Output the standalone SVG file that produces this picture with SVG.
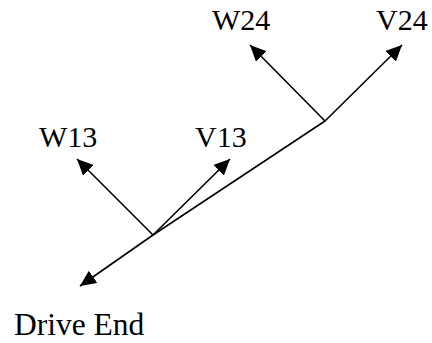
<svg xmlns="http://www.w3.org/2000/svg" width="432" height="343" viewBox="0 0 432 343">
  <style>
    .lbl { font-family: "Liberation Serif", "Times New Roman", serif; font-size: 30px; fill: #000; }
    .wire { stroke: #000; stroke-width: 1.6; fill: none; stroke-linecap: round; }
    .vec { stroke: #000; stroke-width: 1.6; fill: none; marker-end: url(#head); }
  </style>
  <defs>
    <marker id="head" markerUnits="userSpaceOnUse" markerWidth="18" markerHeight="15" refX="16" refY="7.5" orient="auto">
      <path d="M0,0 L16,7.5 L0,15 Z" fill="#000"/>
    </marker>
  </defs>

  <g id="connectors">
    <!-- shaft between the two bearing points -->
    <line class="wire" x1="325" y1="121" x2="153" y2="235"/>
    <!-- shaft toward the drive end -->
    <line class="vec" x1="153" y1="235" x2="80" y2="286"/>
    <!-- bearing 1/3 vectors -->
    <line class="vec" x1="153" y1="235" x2="77" y2="159"/>
    <line class="vec" x1="153" y1="235" x2="230" y2="159"/>
    <!-- bearing 2/4 vectors -->
    <line class="vec" x1="325" y1="121" x2="250" y2="45"/>
    <line class="vec" x1="325" y1="121" x2="402" y2="45"/>
  </g>

  <g id="W24"><text class="lbl" x="212" y="30">W24</text></g>
  <g id="V24"><text class="lbl" x="376" y="30">V24</text></g>
  <g id="W13"><text class="lbl" x="39" y="147">W13</text></g>
  <g id="V13"><text class="lbl" x="195" y="147">V13</text></g>
  <g id="DriveEnd"><text class="lbl" x="14" y="335" style="font-size:31.5px">Drive End</text></g>
</svg>
